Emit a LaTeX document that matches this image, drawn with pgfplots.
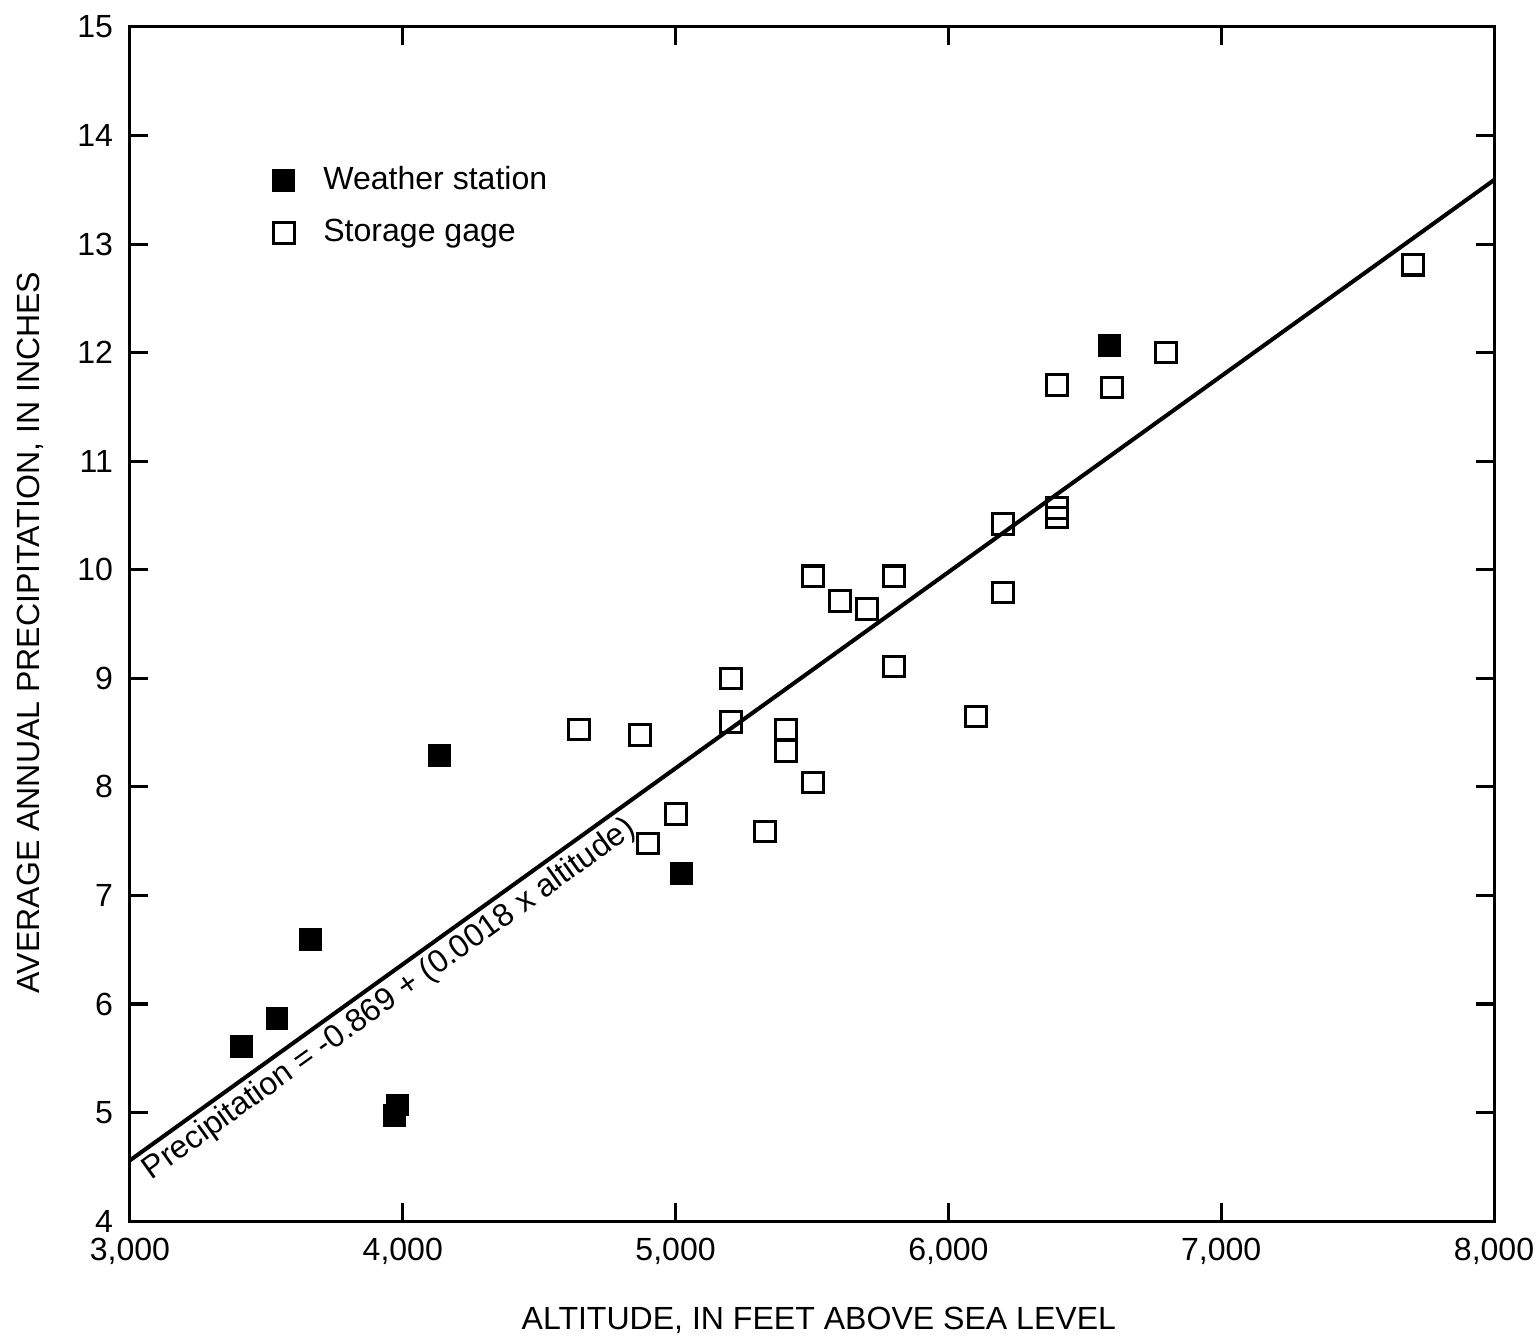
\documentclass[border=0pt]{standalone}
\usepackage{pgfplots}
\pgfplotsset{compat=1.18}
\usepackage{fontspec}
\setmainfont{Liberation Sans}
\begin{document}
\begin{tikzpicture}
\begin{axis}[
  scale only axis,
  width=14.21cm, height=12.44cm,
  xmin=3000, xmax=8000, ymin=4, ymax=15,
  xtick={3000,4000,5000,6000,7000,8000},
  ytick={4,5,...,15},
  tick align=inside,
  major tick length=5.3pt,
  every tick/.style={line width=0.9pt, black},
  axis line style={line width=0.9pt},
  scaled x ticks=false,
  /pgf/number format/.cd, 1000 sep={,}, assume math mode=true,
  /pgfplots/.cd,
  tick label style={font=\fontsize{9.5}{11}\selectfont},
  xticklabel style={yshift=-1.5pt},
  yticklabel style={xshift=-1.5pt},
  label style={font=\fontsize{9.5}{11}\selectfont},
  xlabel={ALTITUDE, IN FEET ABOVE SEA LEVEL},
  ylabel={AVERAGE ANNUAL PRECIPITATION, IN INCHES},
  xlabel style={at={(axis description cs:0.505,-0.083)}, anchor=center},
  ylabel style={at={(axis description cs:-0.0733,0.493)}, anchor=center},
  legend style={draw=none, fill=none, at={(axis description cs:0.097,0.895)}, anchor=north west,
    font=\fontsize{9.5}{11}\selectfont, row sep=3.2pt, column sep=6.5pt, cells={anchor=west}},
  legend cell align=left,
]
\addplot[only marks, mark=square*, mark size=3.2pt, black] coordinates {
(3410,5.61) (3539,5.87) (3663,6.59) (3968,4.97) (3979,5.07) (4133,8.29) (5020,7.20) (6592,12.07)
};
\addlegendentry{Weather station}
\addplot[only marks, mark=square, mark size=3.05pt, black, mark options={line width=0.9pt}] coordinates {
(4646,8.53) (4870,8.48) (4899,7.48) (5001,7.75) (5203,9.00) (5203,8.60) (5328,7.59)
(5405,8.53) (5405,8.33) (5504,8.04) (5504,9.94) (5603,9.71) (5702,9.64) (5800,9.94)
(5800,9.11) (6101,8.65) (6200,9.79) (6200,10.42) (6398,10.57) (6398,10.48) (6398,11.70)
(6600,11.68) (6798,12.00) (7703,12.81)
};
\addlegendentry{Storage gage}
\addplot[black, line width=1.2pt, forget plot] coordinates {(3000,4.56) (8000,13.59)};
\node[rotate=35.6, anchor=north west, inner sep=1pt, font=\fontsize{9.5}{11}\selectfont]
  at (axis cs:3010,4.56) {Precipitation = -0.869 + (0.0018 x altitude)};
\coordinate (bl) at (rel axis cs:0,0);
\coordinate (tr) at (rel axis cs:1,1);
\end{axis}
\pgfresetboundingbox
\path ([shift={(-1.354cm,-1.1875cm)}]bl) rectangle ([shift={(0.4375cm,0.281cm)}]tr);
\end{tikzpicture}
\end{document}
